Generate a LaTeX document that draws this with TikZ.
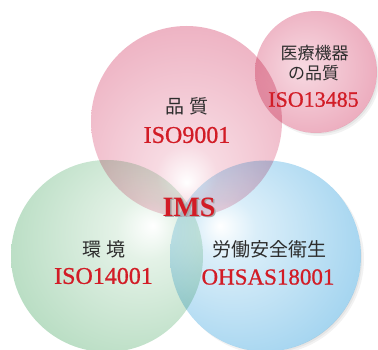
\documentclass[tikz,border=0pt]{standalone}
\usepackage{fontspec}
\setmainfont{Liberation Serif}
\newfontfamily\jpfont{Noto Sans CJK JP}
\newfontfamily\isofont[FakeBold=0.8]{Liberation Serif}
\usetikzlibrary{positioning}
\definecolor{pinkD}{RGB}{226,128,155}
\definecolor{pinkL}{RGB}{247,218,226}
\definecolor{greenD}{RGB}{130,195,150}
\definecolor{greenL}{RGB}{228,242,231}
\definecolor{blueD}{RGB}{95,180,228}
\definecolor{blueL}{RGB}{218,238,249}
\definecolor{isoRed}{RGB}{210,28,38}
\definecolor{textGray}{RGB}{45,45,45}
\pgfdeclareradialshading{pinkBall}{\pgfpoint{0bp}{-16bp}}{color(0bp)=(white); color(8bp)=(pinkL); color(66bp)=(pinkD)}
\pgfdeclareradialshading{medBall}{\pgfpoint{-6bp}{2bp}}{color(0bp)=(pinkL); color(56bp)=(pinkD)}
\pgfdeclareradialshading{greenBall}{\pgfpoint{12bp}{8bp}}{color(0bp)=(white); color(8bp)=(greenL); color(64bp)=(greenD)}
\pgfdeclareradialshading{blueBall}{\pgfpoint{-12bp}{8bp}}{color(0bp)=(white); color(8bp)=(blueL); color(64bp)=(blueD)}
\tikzset{
    ball/.style={circle, inner sep=0pt, minimum size=#1},
    jpText/.style={font=\jpfont\fontsize{19}{22}\selectfont, text=textGray},
    jpSmall/.style={font=\jpfont\fontsize{17}{20}\selectfont, text=textGray},
    isoText/.style={font=\isofont\fontsize{24}{28}\selectfont, text=isoRed},
}
\newcommand{\imsLabel}[2]{
    \node[font=\bfseries\fontsize{28}{32}\selectfont, text=black!35] at ([xshift=1.5pt, yshift=-1.5pt]#1) {#2};
    \node[font=\bfseries\fontsize{28}{32}\selectfont, text=isoRed] (ims) at (#1) {#2};
}
% soft shadow outside a ball
\newcommand{\ballShadow}[2]{
    \begin{scope}[even odd rule]
        \clip (0,0) rectangle (378,350) (#1) circle (#2);
        \foreach \s in {0,2,4}
            \fill[black, opacity=0.05] ([shift={(3,3)}]#1) circle (#2-\s);
    \end{scope}
}
\begin{document}
\begin{tikzpicture}[x=1pt, y=-1pt]
    \useasboundingbox (0,0) rectangle (378,350);

    \ballShadow{265.5,256}{95.5}
    \ballShadow{316,72}{61}

    \begin{scope}[blend mode=multiply]
        \node[ball=192pt, shading=greenBall] (env) at (107,256) {};
        \node[ball=191pt, shading=blueBall] (ohs) at (265.5,256) {};
        \node[ball=191pt, shading=pinkBall] (qual) at (186.5,121.5) {};
        \node[ball=122pt, shading=medBall] (med) at (316,72) {};
    \end{scope}

    \node[jpText] (qualJp) at (187,106) {品 質};
    \node[isoText] (qualIso) at (187,135) {ISO9001};

    \node[jpSmall] (medJp) at (314.5,53) {医療機器};
    \node[jpSmall] (medJp2) at (313.5,73) {の品質};
    \node[isoText, font=\isofont\fontsize{22}{26}\selectfont] (medIso) at (313.5,99.5) {ISO13485};

    \node[jpText] (envJp) at (104,249) {環 境};
    \node[isoText] (envIso) at (103.5,276) {ISO14001};

    \node[jpText] (ohsJp) at (269,249) {労働安全衛生};
    \node[isoText, font=\isofont\fontsize{23}{27}\selectfont] (ohsIso) at (268,277) {OHSAS18001};

    \imsLabel{189,207}{IMS}
\end{tikzpicture}
\end{document}
